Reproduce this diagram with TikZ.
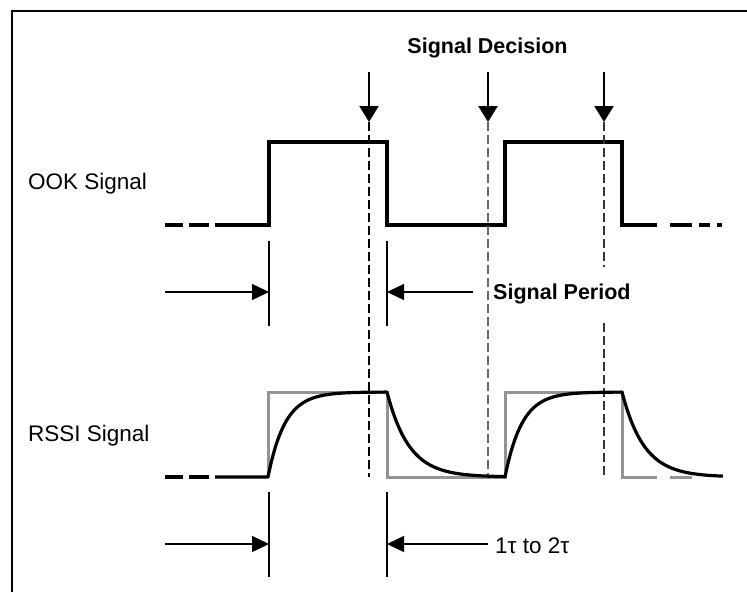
\documentclass[tikz,border=0pt]{standalone}
\usepackage{fontspec}
\setmainfont{Liberation Sans}
\usetikzlibrary{arrows.meta}
\begin{document}
\begin{tikzpicture}[x=1pt,y=-1pt,
  sig/.style={line width=3.2pt, line join=miter, black},
  gsig/.style={line width=3pt, line join=miter, color=black!42},
  lbl/.style={inner sep=0pt, font=\fontsize{22.5}{26}\selectfont},
  blbl/.style={inner sep=0pt, font=\bfseries\fontsize{21.5}{26}\selectfont},
  decarrow/.style={line width=2.2pt, -{Triangle[length=16pt,width=19pt]}},
  dimarrow/.style={line width=1.4pt, -{Triangle[length=17pt,width=16pt]}},
  ticky/.style={line width=2.4pt},
  vdash/.style={line width=2.7pt, dash pattern=on 9pt off 4pt},
  frame/.style={line width=1.6pt}]
\useasboundingbox (0,0) rectangle (747,592);
% frame
\draw[frame] (12,592) -- (12,11) -- (747,11);
% labels
\node[lbl, anchor=base west] (ook) at (28,189) {OOK Signal};
\node[lbl, anchor=base west] (rssi) at (28,441) {RSSI Signal};
\node[blbl, anchor=base] (dec) at (487.5,53) {Signal Decision};
\node[blbl, anchor=base west] (per) at (493,299) {Signal Period};
\node[lbl, anchor=base west] (tau) at (495,553) {1τ to 2τ};
% OOK signal
\draw[sig] (165,225) -- (183,225);
\draw[sig] (189,225) -- (209,225);
\draw[sig] (215,225) -- (269,225) -- (269,142) -- (387,142) -- (387,225)
  -- (505,225) -- (505,142) -- (622,142) -- (622,225) -- (657,225);
\draw[sig] (670,225) -- (692,225);
\draw[sig] (699,225) -- (710,225);
\draw[sig] (717,225) -- (722,225);
% decision arrows and dashed lines
\coordinate (a1) at (369,72); \coordinate (b1) at (369,122); \coordinate (c1) at (369,477);
\coordinate (a2) at (488,72); \coordinate (b2) at (488,122); \coordinate (c2) at (488,477);
\coordinate (a3) at (604,72); \coordinate (b3) at (604,122);
\coordinate (g3) at (604,267); \coordinate (h3) at (604,323); \coordinate (c3) at (604,477);
\draw[vdash] (b1) -- (c1);
\draw[vdash, color=black!60] (b2) -- (c2);
\draw[vdash, color=black!80] (b3) -- (g3);
\draw[vdash, color=black!80] (h3) -- (c3);
\draw[decarrow] (a1) -- (b1);
\draw[decarrow] (a2) -- (b2);
\draw[decarrow] (a3) -- (b3);
% signal period dimension
\coordinate (t1a) at (269,241); \coordinate (t1b) at (269,326);
\coordinate (t2a) at (387,241); \coordinate (t2b) at (387,326);
\coordinate (p1) at (165,292); \coordinate (p1e) at (269,292);
\coordinate (p2) at (473,292); \coordinate (p2e) at (387,292);
\draw[ticky] (t1a) -- (t1b);
\draw[ticky] (t2a) -- (t2b);
\draw[dimarrow] (p1) -- (p1e);
\draw[dimarrow] (p2) -- (p2e);
% RSSI gray ideal
\draw[gsig] (268,477) -- (268,392) -- (387,392) -- (387,477) -- (505,477)
  -- (505,392) -- (622,392) -- (622,477) -- (657,477);
\draw[gsig] (670,477) -- (692,477);
% RSSI black
\draw[sig] (165,477) -- (183,477);
\draw[sig] (189,477) -- (209,477);
\draw[sig, line join=round] (215,477) -- (268,477)
  -- plot[domain=0:119, samples=90] ({268+\x},{477-85*(1-exp(-\x/17))})
  -- plot[domain=0:118, samples=90] ({387+\x},{392+85*(1-exp(-\x/22))})
  -- plot[domain=0:117, samples=90] ({505+\x},{477-85*(1-exp(-\x/17))})
  -- plot[domain=0:101, samples=90] ({622+\x},{392+85*(1-exp(-\x/22))});
% tau dimension
\coordinate (s1a) at (269,492); \coordinate (s1b) at (269,577);
\coordinate (s2a) at (387,492); \coordinate (s2b) at (387,577);
\coordinate (q1) at (165,544); \coordinate (q1e) at (269,544);
\coordinate (q2) at (488,544); \coordinate (q2e) at (387,544);
\draw[ticky] (s1a) -- (s1b);
\draw[ticky] (s2a) -- (s2b);
\draw[dimarrow] (q1) -- (q1e);
\draw[dimarrow] (q2) -- (q2e);
\end{tikzpicture}
\end{document}
